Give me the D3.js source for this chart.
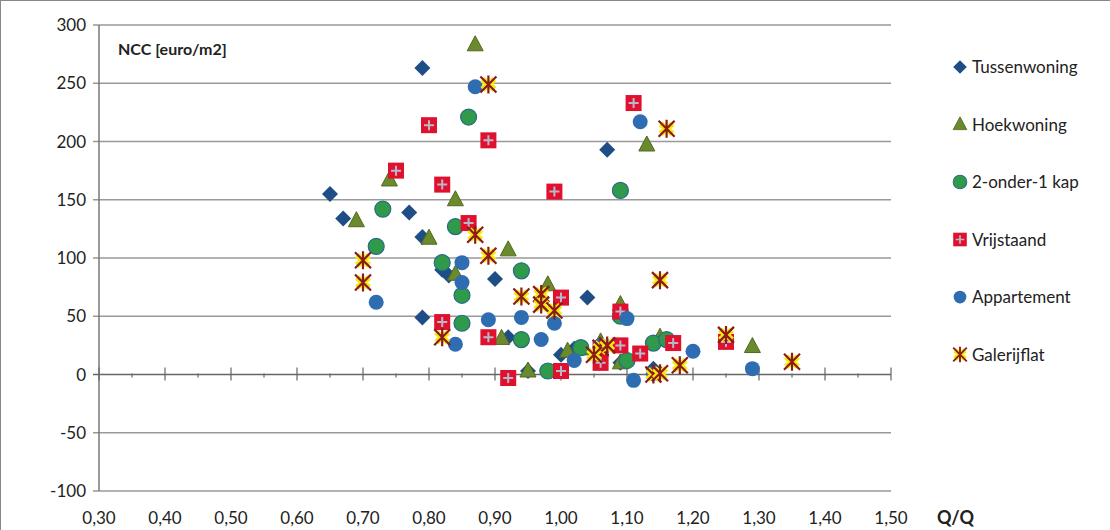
<!DOCTYPE html>
<html><head><meta charset="utf-8">
<script src="https://cdn.jsdelivr.net/npm/d3@7"></script>
<style>body{margin:0;background:#fff}text{font-family:Lato,"Liberation Sans",Arial,sans-serif}</style>
</head><body><svg id="c" width="1110" height="530"></svg>
<script>
const seriesNames = ["Tussenwoning","Hoekwoning","2-onder-1 kap","Vrijstaand","Appartement","Galerijflat"];
const tussenwoning = [[0.65,155],[0.67,134],[0.79,263],[0.77,139],[0.79,118],[0.82,90],[0.79,49],[0.90,82],[0.92,32],[0.95,3],[1.00,17],[1.02,22],[1.04,66],[1.07,193],[1.09,10],[1.10,12],[1.14,5],[0.83,85]];
const hoekwoning = [[0.87,283],[0.74,167],[0.69,132],[0.80,117],[0.84,150],[0.84,86],[0.92,107],[0.98,77],[0.91,31],[0.95,3],[1.01,20],[1.06,28],[1.09,60],[1.09,10],[1.13,197],[1.15,32],[1.29,24],[1.03,22]];
const tweeOnder = [[0.86,221],[0.73,142],[0.72,110],[0.82,96],[0.84,127],[0.85,68],[0.85,44],[0.94,89],[0.94,30],[0.98,3],[1.03,23],[1.09,158],[1.09,50],[1.10,12],[1.14,27],[1.16,30]];
const vrijstaand = [[0.80,214],[0.75,175],[0.82,163],[0.86,130],[0.89,201],[0.82,45],[0.89,32],[0.99,157],[1.00,66],[1.11,233],[0.92,-3],[1.00,3],[1.06,10],[1.09,54],[1.12,18],[1.17,27],[1.25,28],[1.06,22],[1.09,25]];
const appartement = [[0.87,247],[1.12,217],[0.72,62],[0.85,96],[0.85,79],[0.89,47],[0.84,26],[0.94,49],[0.97,30],[0.99,44],[1.02,12],[1.10,48],[1.11,-5],[1.14,1],[1.20,20],[1.29,5],[1.06,25]];
const galerijflat = [[0.89,249],[1.16,211],[0.70,98],[0.70,79],[0.87,120],[0.89,102],[0.82,32],[0.94,67],[0.97,69],[0.97,60],[0.99,55],[1.06,23],[1.07,25],[1.15,81],[1.14,0],[1.15,1],[1.18,8],[1.25,34],[1.35,11],[1.05,17]];
const xTicks = [0.3,0.4,0.5,0.6,0.7,0.8,0.9,1.0,1.1,1.2,1.3,1.4,1.5];
const yTicks = [-100,-50,0,50,100,150,200,250,300];

const allData = [tussenwoning,hoekwoning,tweeOnder,vrijstaand,appartement,galerijflat];
const svg = d3.select("#c");
const x = d3.scaleLinear().domain([0.3,1.5]).range([99,891]);
const y = d3.scaleLinear().domain([-100,300]).range([491,25]);
const fmt = d => d3.format(".2f")(d).replace(".",",");

svg.append("rect").attr("x",0.5).attr("y",0.5).attr("width",1120).attr("height",540).attr("fill","none").attr("stroke","#888");

svg.selectAll(".g").data(yTicks).join("line")
  .attr("x1",93).attr("x2",891).attr("y1",d=>y(d)).attr("y2",d=>y(d))
  .attr("stroke",d=>d===0?"#666":"#999").attr("stroke-width",1.5);
svg.append("line").attr("x1",99).attr("x2",99).attr("y1",25).attr("y2",491).attr("stroke","#777").attr("stroke-width",1.5);

const minor = d3.range(0.3,1.501,0.05);
svg.selectAll(".t").data(minor).join("line")
  .attr("x1",d=>x(d)).attr("x2",d=>x(d))
  .attr("y1",(d,i)=>i%2?y(0)-1:y(0)-7).attr("y2",(d,i)=>i%2?y(0)+3:y(0)+6)
  .attr("stroke","#666").attr("stroke-width",1.2);

svg.selectAll(".xl").data(xTicks).join("text")
  .attr("x",d=>x(d)).attr("y",524).attr("text-anchor","middle").attr("font-size",17).attr("fill","#222").text(fmt);
svg.selectAll(".yl").data(yTicks).join("text")
  .attr("x",86).attr("y",d=>y(d)+6).attr("text-anchor","end").attr("font-size",17).attr("fill","#222").text(d=>d);
svg.append("text").attr("x",937).attr("y",524).attr("font-size",18).attr("font-weight","bold").attr("fill","#222").text("Q/Q");
svg.append("text").attr("x",118).attr("y",55).attr("font-size",16).attr("font-weight","bold").attr("fill","#222").text("NCC [euro/m2]");

function marker(g, k) {
  if (k===0) g.append("path").attr("d","M0,-8L8,0L0,8L-8,0Z").attr("fill","#1f4e86");
  else if (k===1) g.append("path").attr("d","M0,-9L8,6L-8,6Z").attr("fill","#6b8a2e").attr("stroke","#4f6a1d");
  else if (k===2) g.append("circle").attr("r",8).attr("fill","#2f9a4a").attr("stroke","#2a6a88").attr("stroke-width",1.2);
  else if (k===3) { g.append("rect").attr("x",-8).attr("y",-8).attr("width",16).attr("height",16).attr("fill","#e0102f");
    g.append("path").attr("d","M-5,0H5M0,-5V5").attr("stroke","#b8b8c8").attr("stroke-width",2); }
  else if (k===4) g.append("circle").attr("r",7.5).attr("fill","#2e6db2");
  else { g.append("path").attr("d","M-6,-5L6,5M-6,5L6,-5M0,-5V5").attr("stroke","#f5ea10").attr("stroke-width",6);
    g.append("path").attr("d","M-8,-8L8,8M-8,8L8,-8M0,-9V9").attr("stroke","#8b1a1a").attr("stroke-width",2.2); }
}

allData.forEach((arr,k)=>{
  svg.append("g").selectAll("g").data(arr).join("g")
    .attr("transform",d=>`translate(${x(d[0])},${y(d[1])})`)
    .each(function(){ marker(d3.select(this), k); });
});

const leg = svg.append("g");
seriesNames.forEach((n,k)=>{
  const g = leg.append("g").attr("transform",`translate(960,${67+k*57.5})`);
  marker(g.append("g").attr("transform","scale(0.85)"), k);
  g.append("text").attr("x",12).attr("y",6).attr("font-size",17).attr("fill","#222").text(n);
});
</script></body></html>
